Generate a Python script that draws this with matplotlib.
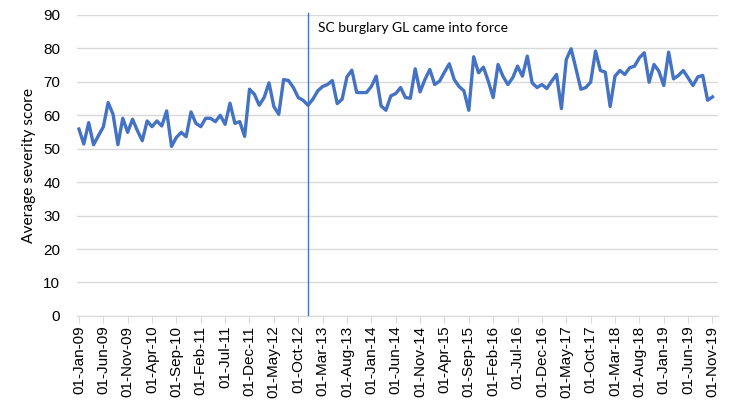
import numpy as np
import pandas as pd
import matplotlib
matplotlib.use("Agg")
import matplotlib.pyplot as plt

# monthly average severity score, Jan 2009 .. Nov 2019
scores = [
    55.9, 51.4, 57.8, 51.2, 53.9, 56.5, 63.8, 60.3, 51.2, 59.1,
    54.9, 58.8, 55.4, 52.4, 58.3, 56.6, 58.3, 56.8, 61.3, 50.7,
    53.4, 54.9, 53.6, 61.0, 57.6, 56.6, 59.1, 59.1, 58.1, 60.0,
    57.3, 63.6, 57.6, 58.1, 53.7, 67.8, 66.3, 63.0, 65.3, 69.7,
    62.6, 60.3, 70.7, 70.4, 68.3, 65.3, 64.5, 63.0, 64.8, 67.3,
    68.6, 69.2, 70.4, 63.5, 64.8, 71.5, 73.5, 66.8, 66.8, 66.8,
    68.6, 71.7, 62.8, 61.5, 65.8, 66.5, 68.3, 65.3, 65.1, 73.9,
    67.0, 70.7, 73.7, 69.2, 70.2, 72.9, 75.4, 70.7, 68.6, 67.3,
    61.5, 77.5, 72.7, 74.4, 70.2, 65.3, 75.2, 71.7, 69.2, 71.2,
    74.7, 71.7, 77.7, 69.7, 68.3, 69.2, 68.0, 70.2, 72.2, 62.0,
    76.7, 79.9, 73.9, 67.8, 68.3, 69.9, 79.2, 73.4, 72.9, 62.6,
    71.7, 73.4, 72.2, 74.2, 74.7, 77.2, 78.7, 69.9, 75.2, 73.2,
    68.9, 78.9, 70.9, 71.9, 73.4, 71.2, 68.9, 71.5, 71.9, 64.5,
    65.5,
]
months = pd.date_range("2009-01-01", periods=len(scores), freq="MS")
guideline_month = pd.Timestamp("2012-12-01")
guideline_text = "SC burglary GL came into force"
y_ticks = list(range(0, 91, 10))

blue = "#4472C4"
grid = "#D9D9D9"

fig = plt.figure(figsize=(7.31, 4.05), dpi=100)
ax = fig.add_axes([0.1053, 0.22, 0.8767, 0.743])

x = np.arange(len(scores))
ax.plot(x, scores, color=blue, lw=2.4, solid_joinstyle="round", zorder=3)

gx = months.get_loc(guideline_month)
ax.plot([gx, gx], [0, 90.6], color=blue, lw=1.0, clip_on=False, zorder=2)
ax.text(gx + 2, 86.0, guideline_text, fontsize=10, family=["Lato", "DejaVu Sans"],
        va="center", ha="left", color="#000000")

ax.set_xlim(-0.4, 131.1)
ax.set_ylim(0, 90)
ax.set_yticks(y_ticks)
ax.set_yticklabels([str(v) for v in y_ticks], fontsize=11, family="Liberation Sans")
ax.yaxis.grid(True, color=grid, lw=1.0)
ax.set_axisbelow(True)
ax.tick_params(axis="y", length=0, pad=12)

xt = x[::5]
ax.set_xticks(xt)
ax.set_xticklabels([months[i].strftime("%d-%b-%y") for i in xt], rotation=90,
                   fontsize=11, family="Liberation Sans")
ax.tick_params(axis="x", length=5, color=grid, pad=2)

for s in ["top", "right", "left"]:
    ax.spines[s].set_visible(False)
ax.spines["bottom"].set_color(grid)

ax.set_ylabel("Average severity score", fontsize=11.2, family=["Lato", "DejaVu Sans"],
              labelpad=5)

fig.savefig("out.png", dpi=100)
